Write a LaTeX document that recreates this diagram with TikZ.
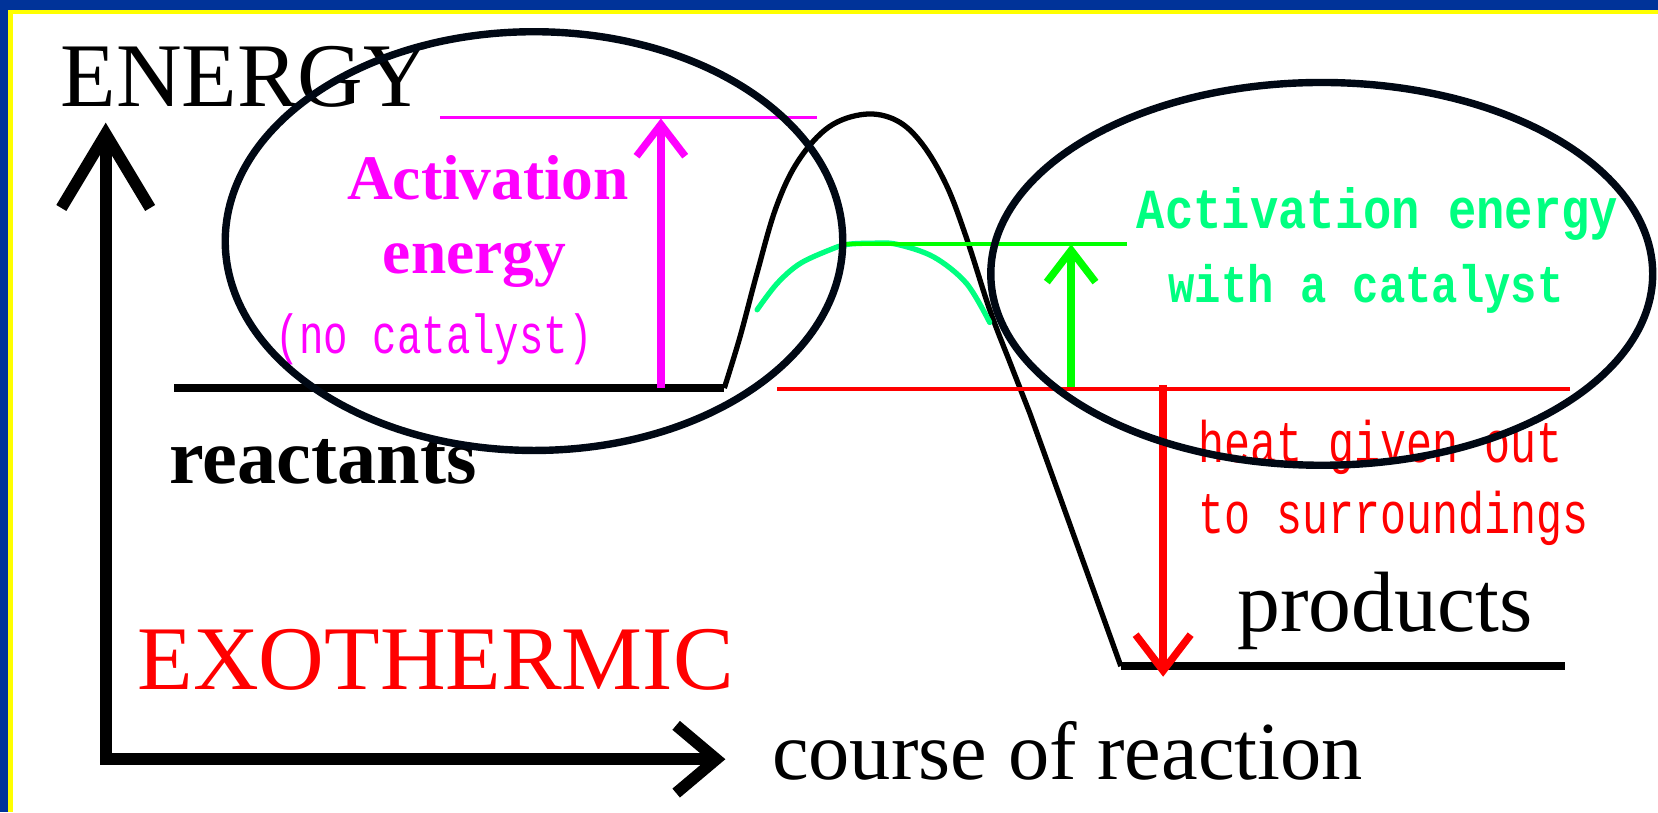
\documentclass[tikz,border=0pt]{standalone}
\usepackage{fontspec}
\usepackage{graphicx}
\setmainfont{Liberation Serif}
\newfontfamily\monofont{Liberation Mono}
\usetikzlibrary{arrows.meta}
\definecolor{bordblue}{RGB}{0,51,153}
\definecolor{bordyellow}{RGB}{255,255,0}
\definecolor{ringcol}{RGB}{0,8,20}
\definecolor{actmag}{RGB}{255,0,255}
\definecolor{catgreen}{RGB}{0,255,128}
\definecolor{catline}{RGB}{0,255,0}
\definecolor{heatred}{RGB}{255,0,0}
\newcommand{\fsz}[1]{\fontsize{#1}{#1}\selectfont}
\begin{document}
\begin{tikzpicture}[x=1pt,y=-1pt,
  lbl/.style={inner sep=0pt, anchor=base west},
  axisline/.style={line width=11pt, black, line join=miter},
  levelline/.style={line width=7pt, black},
  curveline/.style={line width=5pt, black, line join=round},
  catcurve/.style={line width=5pt, catgreen, line cap=round},
  thinline/.style={line width=3.5pt},
  ring/.style={line width=7pt, ringcol},
  uparrow/.style={line width=7pt, -{Straight Barb[length=30pt,width=46pt]}}
]
\useasboundingbox (0,0) rectangle (1568,768);
\fill[white] (0,0) rectangle (1568,768);
% frame
\fill[bordblue] (0,0) rectangle (1568,9);
\fill[bordblue] (0,0) rectangle (8,768);
\fill[bordyellow] (8,9) rectangle (1568,13);
\fill[bordyellow] (8,9) rectangle (12,768);

% axes
\coordinate (ytip) at (100,116);
\coordinate (origin) at (100,718);
\coordinate (xtip) at (686,718);
\draw[axisline, {Straight Barb[length=70pt,width=84pt]}-{Straight Barb[length=38pt,width=64pt]}]
  (ytip) -- (origin) -- (xtip);

% energy levels
\coordinate (rleft) at (165,367);
\coordinate (rright) at (685,367);
\coordinate (pleft) at (1060,630);
\coordinate (pright) at (1480,630);
\draw[levelline] (rleft) -- (rright);
\draw[levelline] (pleft) -- (pright);

% reaction profile (no catalyst)
\draw[curveline] (rright) -- plot[smooth, tension=0.6] coordinates {
  (685,367) (700,318) (716,258) (734,196) (755,152) (784,120) (818,108)
  (848,114) (872,136) (895,175) (914,225) (936,293) (956,345) (974,391)} -- (pleft);

% catalysed profile
\draw[catcurve] plot[smooth, tension=0.55] coordinates {
  (716,293) (735,268) (757,249) (788,235) (802,231) (825,230) (848,231)
  (883,243) (914,268) (936,305)};

% activation energy (no catalyst)
\coordinate (magL) at (416,111);
\coordinate (magR) at (773,111);
\coordinate (magBase) at (625,367);
\coordinate (magTop) at (625,112);
\draw[thinline, actmag] (magL) -- (magR);
\draw[uparrow, actmag] (magBase) -- (magTop);

% activation energy with catalyst
\coordinate (grnL) at (800,231);
\coordinate (grnR) at (1066,231);
\coordinate (grnBase) at (1013,368);
\coordinate (grnTop) at (1013,231);
\draw[thinline, catline] (grnL) -- (grnR);
\draw[uparrow, catline] (grnBase) -- (grnTop);

% heat given out
\coordinate (redL) at (735,368);
\coordinate (redR) at (1485,368);
\coordinate (redTop) at (1100,364);
\coordinate (redTip) at (1100,640);
\draw[thinline, heatred] (redL) -- (redR);
\draw[line width=7pt, heatred, -{Straight Barb[length=34pt,width=52pt]}] (redTop) -- (redTip);

% labels
\node[lbl, font=\fsz{86}] (energy) at (57,101) {ENERGY};
\node[lbl, font=\fsz{78}] (course) at (730,737) {course of reaction};
\node[lbl, font=\fsz{86}, text=heatred] (exo) at (130,652) {EXOTHERMIC};
\node[lbl, font=\fsz{74}\bfseries] (reactants) at (160,457) {reactants};
\node[lbl, font=\fsz{81}] (products) at (1170,597) {products};

\node[lbl, font=\fsz{60}\bfseries, text=actmag] (actA) at (328,189) {Activation};
\node[lbl, font=\fsz{60}\bfseries, text=actmag] (actB) at (362,259) {energy};
\node[lbl, font=\monofont\fsz{38.5}, text=actmag] (actC) at (260,334) {\scalebox{1}[1.35]{(no catalyst)}};

\node[lbl, font=\monofont\bfseries\fsz{44.6}, text=catgreen] (catA) at (1075,216) {\scalebox{1}[1.2]{Activation energy}};
\node[lbl, font=\monofont\bfseries\fsz{41.5}, text=catgreen] (catB) at (1105,286) {\scalebox{1}[1.2]{with a catalyst}};

\node[lbl, font=\monofont\fsz{41}, text=heatred] (heatA) at (1133,437) {\scalebox{1}[1.35]{heat given out}};
\node[lbl, font=\monofont\fsz{41}, text=heatred] (heatB) at (1133,505) {\scalebox{1}[1.35]{to surroundings}};

% highlight rings
\draw[ring] (505,228) ellipse [x radius=292pt, y radius=198pt];
\draw[ring] (1250,259) ellipse [x radius=313pt, y radius=181pt];
\end{tikzpicture}
\end{document}
